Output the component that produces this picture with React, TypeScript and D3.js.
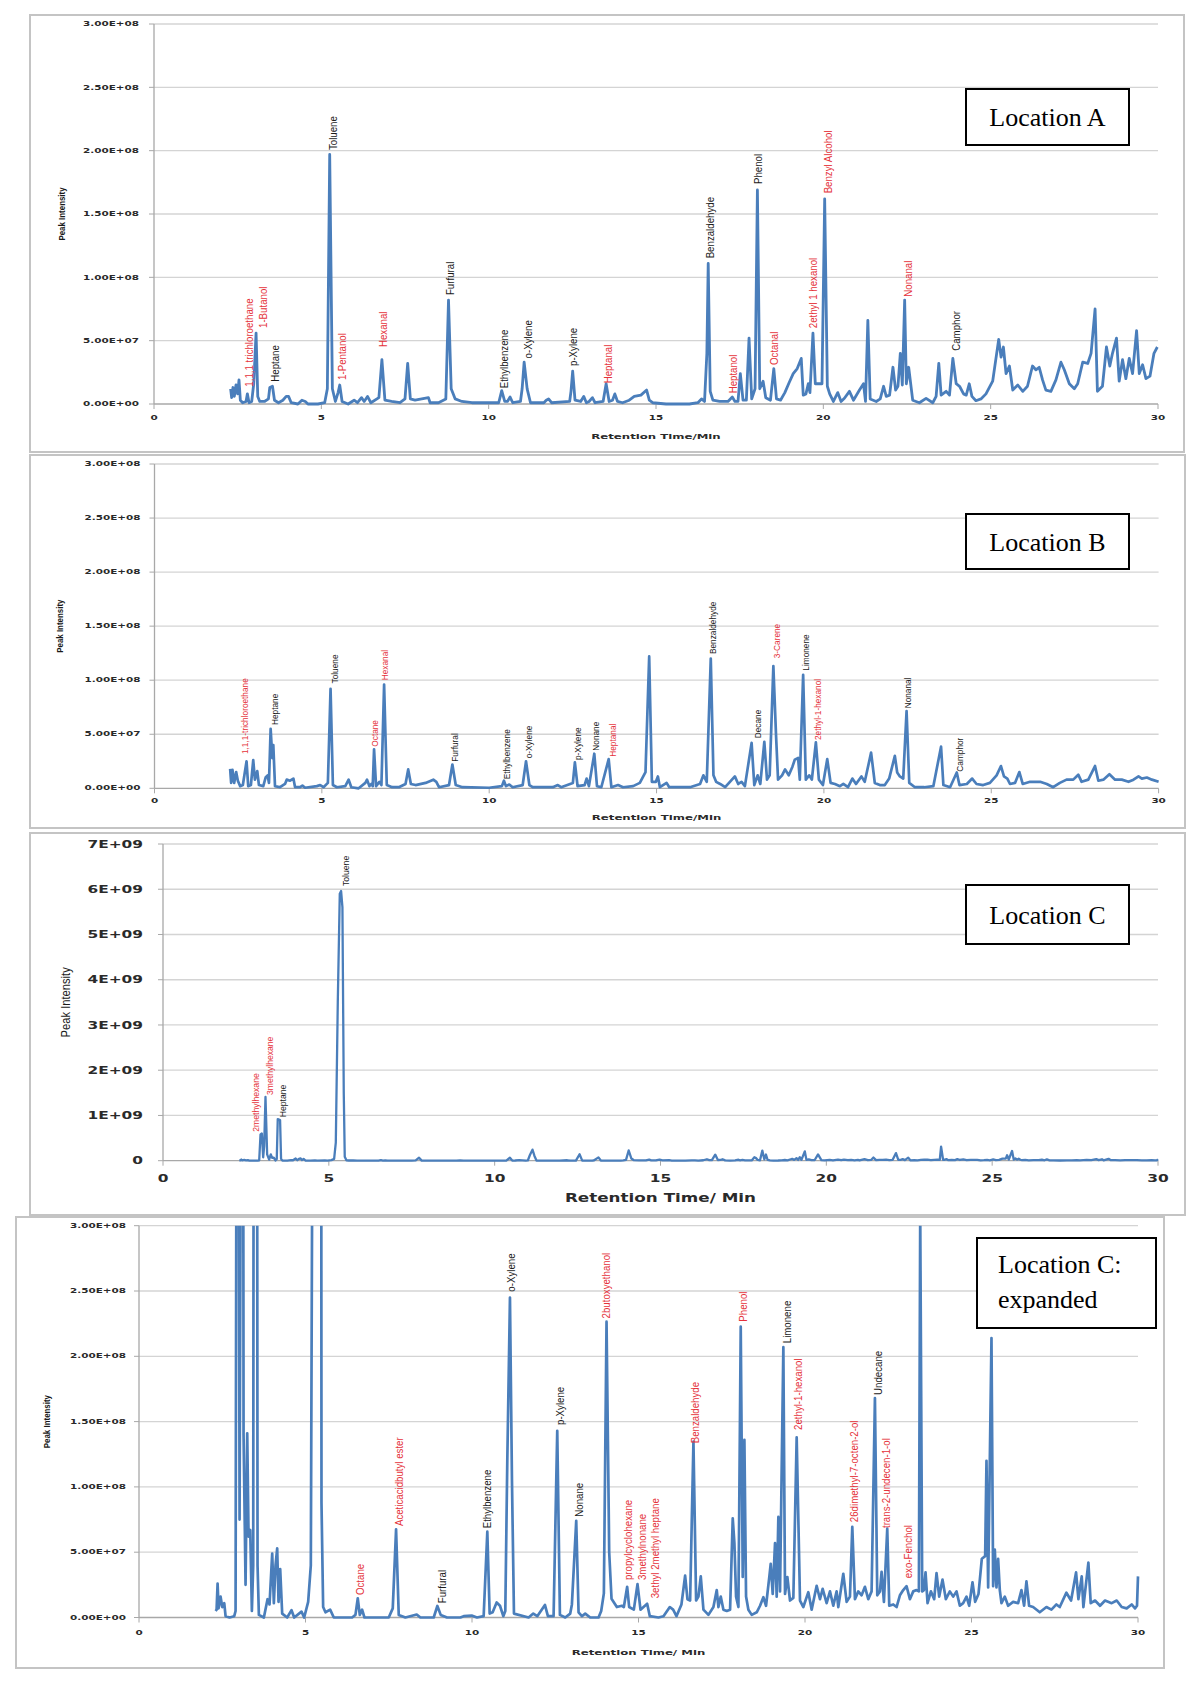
import React from "react";
import * as d3 from "d3";

type Pt = [number, number];
type Lbl = { name: string; t: number; v: number; red?: boolean };

// ---------- ticks ----------
const xTicks = [0, 5, 10, 15, 20, 25, 30];
const yTicksM = [0, 50, 100, 150, 200, 250, 300]; // millions
const yTickLabelsM = ["0.00E+00", "5.00E+07", "1.00E+08", "1.50E+08", "2.00E+08", "2.50E+08", "3.00E+08"];
const yTicksC = [0, 1000, 2000, 3000, 4000, 5000, 6000, 7000]; // millions
const yTickLabelsC = ["0", "1E+09", "2E+09", "3E+09", "4E+09", "5E+09", "6E+09", "7E+09"];

// ---------- series (retention time in min, intensity in millions) ----------
const seriesA: Pt[] = [
  [2.29,12],[2.32,5],[2.36,13],[2.4,6],[2.45,15],[2.5,8],[2.54,19],[2.58,3],[2.65,1],[2.75,2],[2.79,8],[2.84,1],[2.92,2],[2.98,16],[3.05,56],[3.1,6],[3.16,2],[3.3,2],[3.42,4],[3.46,13],[3.54,14],[3.6,3],[3.72,1],[3.85,3],[3.95,6],[4.02,6],[4.1,1],[4.3,0],[4.42,3],[4.52,2],[4.6,0],[4.9,0],[5.1,1],[5.18,12],[5.25,197],[5.33,12],[5.42,2],[5.5,9],[5.55,15],[5.62,2],[5.8,0],[5.98,3],[6.08,1],[6.2,5],[6.28,2],[6.38,6],[6.48,1],[6.72,5],[6.81,35],[6.9,3],[7.1,2],[7.35,1],[7.5,4],[7.58,32],[7.66,4],[7.8,3],[8.0,4],[8.2,5],[8.25,1],[8.5,1],[8.72,4],[8.8,82],[8.88,12],[9.0,4],[9.2,2],[9.5,1],[10.3,1],[10.39,10.5],[10.48,2],[10.56,2],[10.64,5.5],[10.72,1],[10.95,2],[11.0,12],[11.06,33],[11.15,12],[11.25,1],[11.65,1],[11.72,3],[11.79,4],[11.88,1],[12.42,2],[12.46,10],[12.51,26],[12.58,3],[12.75,2],[12.84,6],[12.92,1],[13.0,2],[13.1,5],[13.18,1],[13.42,2],[13.51,16],[13.6,2],[13.7,3],[13.77,8],[13.85,2],[14.0,1],[14.2,3],[14.35,6],[14.55,7],[14.72,11],[14.8,3],[14.9,1],[15.3,0],[16.0,0],[16.25,1],[16.36,4],[16.45,2],[16.52,40],[16.56,111],[16.62,10],[16.7,3],[16.9,2],[17.15,2],[17.28,5.5],[17.36,2],[17.45,2],[17.52,24],[17.6,3],[17.7,3],[17.78,52],[17.86,4],[17.96,12],[18.03,169],[18.1,12],[18.2,18],[18.28,5],[18.42,3],[18.52,28],[18.6,4],[18.72,3],[18.85,9],[18.98,17],[19.1,24],[19.22,28],[19.34,36],[19.4,7],[19.48,8],[19.55,16],[19.6,9],[19.69,56],[19.76,16],[19.85,16],[19.96,16],[20.04,162],[20.12,14],[20.19,8],[20.3,2],[20.43,9],[20.53,2],[20.63,4.5],[20.78,10],[20.9,3],[21.08,11],[21.2,16],[21.26,2],[21.33,66],[21.4,4],[21.58,2],[21.7,4],[21.8,14],[21.88,6],[21.98,7],[22.08,29],[22.16,11],[22.23,14],[22.3,40],[22.36,15],[22.43,82],[22.48,16],[22.55,29],[22.67,3],[22.87,1],[23.07,4.5],[23.27,1],[23.37,6],[23.45,32],[23.52,7],[23.67,10],[23.77,7],[23.87,36],[23.97,16],[24.07,14],[24.19,8],[24.27,7],[24.36,16],[24.44,6],[24.56,2.6],[24.71,4],[24.86,8],[25.06,18],[25.24,51],[25.31,37],[25.38,45],[25.46,24],[25.56,30],[25.66,11],[25.81,15],[25.96,10],[26.1,14],[26.25,30],[26.35,27],[26.45,29],[26.55,19],[26.65,11],[26.8,10],[26.95,19],[27.1,33],[27.2,27],[27.35,16],[27.5,12],[27.6,16],[27.75,33],[27.9,32],[28.0,40],[28.12,75],[28.19,10],[28.34,14],[28.46,45],[28.56,30],[28.64,40],[28.76,52],[28.84,18],[28.94,35],[29.04,20],[29.14,36],[29.24,24],[29.36,58],[29.44,24],[29.54,31],[29.64,20],[29.76,22],[29.88,40],[29.98,45]
];

const seriesB: Pt[] = [
  [2.26,18],[2.29,5],[2.33,17],[2.38,5],[2.44,15],[2.49,7],[2.56,2],[2.64,3],[2.75,25],[2.8,2],[2.88,3],[2.95,26],[3.0,8],[3.07,16],[3.12,3],[3.25,2],[3.32,10],[3.38,12],[3.42,5],[3.47,55],[3.52,28],[3.55,40],[3.6,2],[3.75,1],[3.9,4],[3.95,8],[4.05,7],[4.15,9],[4.2,1],[4.35,1],[4.42,2.5],[4.5,0.5],[4.85,2],[4.95,3],[5.05,1],[5.18,5],[5.26,92],[5.33,3],[5.45,1],[5.7,2],[5.8,8],[5.88,1],[6.1,0],[6.3,5],[6.35,8],[6.42,2],[6.48,4],[6.52,2],[6.56,36],[6.62,2],[6.72,6],[6.78,3],[6.86,96],[6.94,3],[7.1,1],[7.3,1],[7.5,4],[7.58,17.5],[7.66,4],[7.8,3],[8.1,5],[8.33,8],[8.42,6],[8.5,1],[8.8,3],[8.9,22],[9.0,3],[9.2,1],[10.0,0.5],[10.38,2],[10.44,7],[10.5,2],[10.6,3.5],[10.7,1],[11.0,3],[11.1,25],[11.2,3],[11.3,1],[11.9,1],[12.05,3],[12.15,1],[12.5,5],[12.56,24],[12.64,2],[12.85,3],[12.91,9],[12.98,2],[13.14,32],[13.22,2],[13.35,1],[13.57,27],[13.65,1],[13.85,3],[14.0,1],[14.3,2],[14.5,5],[14.67,15],[14.78,122],[14.86,6],[14.98,6],[15.04,11],[15.1,1],[15.3,5],[15.38,1],[16.0,1],[16.3,4],[16.4,12],[16.5,6],[16.62,120],[16.7,12],[16.78,6],[16.9,4],[17.05,1],[17.34,11],[17.44,4],[17.54,6],[17.64,2],[17.84,42],[17.92,3],[18.02,12],[18.1,4],[18.22,43],[18.3,8],[18.38,12],[18.49,113],[18.57,49],[18.63,8],[18.75,12],[18.84,17.5],[18.95,12],[19.06,20],[19.13,26.5],[19.23,28],[19.28,8],[19.38,105],[19.46,8],[19.56,12],[19.64,8],[19.76,42.5],[19.85,8],[19.97,3],[20.1,27],[20.2,5],[20.33,4],[20.48,2],[20.58,4],[20.72,1],[20.85,9],[20.96,4],[21.12,11],[21.22,6],[21.41,33],[21.52,5],[21.67,3],[21.82,3],[21.95,9],[22.12,30],[22.19,14.6],[22.27,11],[22.37,9],[22.47,71.5],[22.55,5],[22.72,1],[23.0,1],[23.27,2],[23.5,38.5],[23.57,3],[23.77,1],[23.97,14.6],[24.05,3],[24.27,4],[24.43,9],[24.56,4],[24.76,3],[24.96,5],[25.16,12],[25.29,20.6],[25.38,11],[25.48,9],[25.56,4],[25.71,5],[25.84,15],[25.94,4],[26.16,6],[26.46,6],[26.66,4],[26.85,1],[27.05,5],[27.25,8],[27.45,8],[27.6,12.6],[27.7,6],[27.9,8],[28.1,20.6],[28.2,7],[28.35,8],[28.53,13],[28.7,8],[28.9,8],[29.1,6],[29.25,8],[29.4,11],[29.5,9],[29.65,10],[29.8,8],[30.0,6]
];

// Location C (shown full-scale in panel C and expanded in panel D)
const seriesC: Pt[] = [
  [2.3,5],[2.33,6],[2.36,26],[2.39,7],[2.45,16],[2.5,8],[2.56,11],[2.6,1],[2.72,0],[2.86,1],[2.9,5],[2.94,580],[2.98,600],[3.02,75],[3.05,320],[3.09,1410],[3.14,140],[3.2,25],[3.25,141],[3.29,62],[3.34,67],[3.39,5],[3.43,40],[3.46,920],[3.53,900],[3.56,40],[3.6,2],[3.75,0],[3.86,14],[3.92,10],[4.0,49],[4.05,11],[4.1,40],[4.15,53],[4.19,12],[4.24,37],[4.3,3],[4.45,0],[4.58,5.6],[4.66,0],[4.88,4.5],[4.96,0],[5.08,12],[5.16,40],[5.21,400],[5.27,3500],[5.33,5900],[5.37,5960],[5.41,5600],[5.45,1500],[5.48,88],[5.53,8],[5.6,4],[5.74,6],[5.85,0],[6.4,0],[6.5,2],[6.57,14.7],[6.63,2],[6.7,6],[6.77,0],[7.5,0],[7.62,7],[7.72,67.5],[7.8,2],[8.0,0],[8.34,2.3],[8.45,0],[8.85,0],[8.96,8.8],[9.06,2],[9.25,0],[9.65,0],[9.75,1],[9.99,1.5],[10.15,0],[10.35,1],[10.46,65.7],[10.53,3],[10.62,4],[10.74,11.5],[10.84,9],[10.94,1],[11.0,5],[11.06,120],[11.14,245],[11.2,105],[11.26,3],[11.7,0],[11.84,3],[11.96,1],[12.19,9.6],[12.28,1],[12.45,1],[12.56,143],[12.64,2],[12.8,0],[12.95,3],[13.0,10],[13.13,74],[13.2,4],[13.3,1],[13.4,3],[13.55,0],[13.8,0],[13.88,5],[13.96,18.5],[14.04,226.5],[14.12,50],[14.19,14.4],[14.35,8],[14.5,9],[14.56,8],[14.66,23.5],[14.72,8],[14.86,6],[14.97,25.5],[15.06,6],[15.26,10.5],[15.34,1],[15.6,0],[15.75,1],[15.94,8],[16.04,6],[16.14,1],[16.29,10],[16.4,32],[16.47,14],[16.55,13],[16.65,134.6],[16.73,13],[16.8,16],[16.87,31.5],[16.95,6],[17.1,2],[17.25,8],[17.35,21],[17.4,8],[17.47,16],[17.55,6],[17.65,5],[17.75,6],[17.83,76],[17.88,57],[17.93,16],[18.0,8],[18.07,222.7],[18.13,31],[18.18,136],[18.23,16],[18.3,6],[18.4,2],[18.55,4],[18.65,9],[18.75,15.5],[18.83,9],[18.93,31.5],[18.97,41],[19.03,18],[19.1,57],[19.15,16],[19.2,77],[19.25,20],[19.35,207],[19.4,18],[19.47,31],[19.55,13],[19.65,15],[19.75,138],[19.85,13],[19.95,8],[20.1,19.4],[20.2,6],[20.35,24.3],[20.45,14],[20.53,22],[20.65,11],[20.75,20],[20.85,9],[20.95,20],[21.0,8],[21.15,33.5],[21.25,12],[21.35,16],[21.42,69.5],[21.5,14],[21.6,20],[21.7,17],[21.8,23.5],[21.9,14],[22.0,20],[22.1,168],[22.17,17],[22.25,20],[22.3,35],[22.37,12],[22.47,68],[22.53,9],[22.65,10],[22.75,8],[22.85,17],[22.95,21],[23.05,24],[23.15,14],[23.25,20],[23.35,21],[23.42,20],[23.46,310],[23.52,20],[23.57,21],[23.62,34.5],[23.68,11],[23.78,20],[23.88,14],[23.95,34],[24.03,16],[24.13,29],[24.23,14],[24.35,20],[24.45,16],[24.55,20],[24.65,9],[24.75,11],[24.85,16],[24.93,9],[25.03,27],[25.11,12],[25.21,18],[25.31,45],[25.41,47],[25.45,120],[25.5,23],[25.55,120],[25.6,214],[25.65,24],[25.7,52],[25.75,23],[25.8,45],[25.85,21],[25.9,11],[26.0,16],[26.1,9],[26.25,12],[26.4,11],[26.5,21],[26.58,9],[26.65,27.6],[26.73,9],[26.85,8],[27.05,4],[27.25,8],[27.4,6],[27.55,10],[27.65,8],[27.85,19],[27.99,13],[28.14,34.5],[28.21,14],[28.31,31.5],[28.36,8],[28.51,42],[28.58,11],[28.71,13],[28.86,9],[29.01,13],[29.21,11],[29.36,13],[29.51,8],[29.66,7],[29.81,10],[29.91,7],[29.97,9],[30.0,31.5]
];

// ---------- peak labels (t = retention time, v = intensity at label base) ----------
const labelsA: Lbl[] = [
  { name: "1,1,1 trichloroethane", t: 2.85, v: 13.7, red: true },
  { name: "1-Butanol", t: 3.26, v: 60, red: true },
  { name: "Heptane", t: 3.62, v: 17.6 },
  { name: "Toluene", t: 5.36, v: 200.5 },
  { name: "1-Pentanol", t: 5.61, v: 19, red: true },
  { name: "Hexanal", t: 6.85, v: 45, red: true },
  { name: "Furfural", t: 8.84, v: 86 },
  { name: "Ethylbenzene", t: 10.46, v: 12.4 },
  { name: "o-Xylene", t: 11.18, v: 36 },
  { name: "p-Xylene", t: 12.51, v: 30 },
  { name: "Heptanal", t: 13.57, v: 16.3, red: true },
  { name: "Benzaldehyde", t: 16.61, v: 115 },
  { name: "Heptanol", t: 17.29, v: 8.4, red: true },
  { name: "Phenol", t: 18.05, v: 173.7 },
  { name: "Octanal", t: 18.52, v: 30.8, red: true },
  { name: "2ethyl 1 hexanol", t: 19.7, v: 59.8, red: true },
  { name: "Benzyl Alcohol", t: 20.13, v: 166.3, red: true },
  { name: "Nonanal", t: 22.52, v: 84.7, red: true },
  { name: "Camphor", t: 23.98, v: 42 }
];

const labelsB: Lbl[] = [
  { name: "1,1,1-trichloroethane", t: 2.69, v: 31.7, red: true },
  { name: "Heptane", t: 3.59, v: 58.6 },
  { name: "Toluene", t: 5.38, v: 97 },
  { name: "Octane", t: 6.57, v: 38.5, red: true },
  { name: "Hexanal", t: 6.87, v: 100, red: true },
  { name: "Furfural", t: 8.97, v: 24.6 },
  { name: "Ethylbenzene", t: 10.52, v: 8.3 },
  { name: "o-Xylene", t: 11.18, v: 27.8 },
  { name: "p-Xylene", t: 12.65, v: 26.2 },
  { name: "Nonane", t: 13.18, v: 34.8 },
  { name: "Heptanal", t: 13.7, v: 29.2, red: true },
  { name: "Benzaldehyde", t: 16.69, v: 124.2 },
  { name: "Decane", t: 18.02, v: 46.3 },
  { name: "3-Carene", t: 18.58, v: 120.3, red: true },
  { name: "Limonene", t: 19.45, v: 108.8 },
  { name: "2ethyl-1-hexanol", t: 19.8, v: 44.7, red: true },
  { name: "Nonanal", t: 22.51, v: 74 },
  { name: "Camphor", t: 24.06, v: 15.4 }
];

const labelsC: Lbl[] = [
  { name: "2methylhexane", t: 2.79, v: 641, red: true },
  { name: "3methylhexane", t: 3.2, v: 1452, red: true },
  { name: "Heptane", t: 3.61, v: 959 },
  { name: "Toluene", t: 5.49, v: 6072 }
];

const labelsD: Lbl[] = [
  { name: "Octane", t: 6.64, v: 17.2, red: true },
  { name: "Aceticacidbutyl ester", t: 7.82, v: 70, red: true },
  { name: "Furfural", t: 9.09, v: 10.9 },
  { name: "Ethylbenzene", t: 10.46, v: 68.3 },
  { name: "o-Xylene", t: 11.19, v: 249.5 },
  { name: "p-Xylene", t: 12.64, v: 147.4 },
  { name: "Nonane", t: 13.22, v: 77.2 },
  { name: "2butoxyethanol", t: 14.04, v: 229, red: true },
  { name: "propylcyclohexane", t: 14.69, v: 28.7, red: true },
  { name: "3methylnonane", t: 15.1, v: 28.7, red: true },
  { name: "3ethyl 2methyl heptane", t: 15.5, v: 14.7, red: true },
  { name: "Benzaldehyde", t: 16.7, v: 133.4, red: true },
  { name: "Phenol", t: 18.15, v: 226.5, red: true },
  { name: "Limonene", t: 19.45, v: 210 },
  { name: "2ethyl-1-hexanol", t: 19.8, v: 143.6, red: true },
  { name: "26dimethyl-7-octen-2-ol", t: 21.47, v: 73, red: true },
  { name: "Undecane", t: 22.19, v: 170.4 },
  { name: "trans-2-undecen-1-ol", t: 22.45, v: 68.5, red: true },
  { name: "exo-Fenchol", t: 23.1, v: 30, red: true }
];

// ---------- layout ----------
interface Cfg {
  id: string;
  series: Pt[];
  labels: Lbl[];
  yMax: number;
  yTicks: number[];
  yTickLabels: string[];
  x0: number; x1: number; yTop: number; yBot: number;
  box: [number, number, number, number];
  loc: { x: number; y: number; w: number; h: number; lines: string[] };
  title: string;
  big: boolean;
  lblFont: number;
  lineW: number;
  yLblGap: number; xLblOff: number; titleOff: number; piX: number;
}

const BLUE = "#4a7ebb";
const RED = "#e5323a";
const GRID = "#d4d4d4";

const panels: Cfg[] = [
  {
    id: "A", series: seriesA, labels: labelsA, yMax: 300, yTicks: yTicksM, yTickLabels: yTickLabelsM,
    x0: 154, x1: 1158, yTop: 24, yBot: 404, box: [30, 15, 1184, 452],
    loc: { x: 966, y: 89, w: 163, h: 56, lines: ["Location A"] },
    title: "Retention Time/Min", big: false, lblFont: 11, lineW: 2.8,
    yLblGap: 15, xLblOff: 14, titleOff: 32, piX: 62
  },
  {
    id: "B", series: seriesB, labels: labelsB, yMax: 300, yTicks: yTicksM, yTickLabels: yTickLabelsM,
    x0: 154.5, x1: 1158.6, yTop: 464, yBot: 788.3, box: [30, 455, 1185, 828],
    loc: { x: 966, y: 514, w: 163, h: 55, lines: ["Location B"] },
    title: "Retention Time/Min", big: false, lblFont: 9.4, lineW: 2.7,
    yLblGap: 14, xLblOff: 13, titleOff: 28.5, piX: 60
  },
  {
    id: "C", series: seriesC, labels: labelsC, yMax: 7000, yTicks: yTicksC, yTickLabels: yTickLabelsC,
    x0: 163, x1: 1158, yTop: 844, yBot: 1160.7, box: [30, 833, 1185, 1215],
    loc: { x: 966, y: 885, w: 163, h: 59, lines: ["Location C"] },
    title: "Retention Time/ Min", big: true, lblFont: 9.8, lineW: 2.3,
    yLblGap: 20, xLblOff: 17.5, titleOff: 36.5, piX: 65
  },
  {
    id: "D", series: seriesC, labels: labelsD, yMax: 300, yTicks: yTicksM, yTickLabels: yTickLabelsM,
    x0: 139, x1: 1138, yTop: 1225.7, yBot: 1617.5, box: [16, 1217, 1164, 1668],
    loc: { x: 977, y: 1238, w: 179, h: 90, lines: ["Location C:", "expanded"] },
    title: "Retention Time/ Min", big: false, lblFont: 11, lineW: 2.7,
    yLblGap: 13, xLblOff: 15.5, titleOff: 34.5, piX: 47
  }
];

function Panel({ c }: { c: Cfg }) {
  const x = d3.scaleLinear().domain([0, 30]).range([c.x0, c.x1]);
  const y = d3.scaleLinear().domain([0, c.yMax]).range([c.yBot, c.yTop]);
  const line = d3.line<Pt>().x((d) => x(d[0])).y((d) => y(d[1])).curve(d3.curveLinear);
  const [bx0, by0, bx1, by1] = c.box;
  const tickFont = c.big ? 11 : 8;
  const tickScale = c.big ? "scale(1.4,1)" : "scale(1.3,0.78)";
  const axisFont = "'DejaVu Sans', Verdana, sans-serif";
  const yMid = (c.yTop + c.yBot) / 2;
  return (
    <g>
      <defs>
        <clipPath id={`clip${c.id}`}>
          <rect x={c.x0} y={c.yTop} width={c.x1 - c.x0 + 4} height={c.yBot - c.yTop + 4} />
        </clipPath>
      </defs>
      <rect x={bx0} y={by0} width={bx1 - bx0} height={by1 - by0} fill="#fff" stroke="#c4c4c4" strokeWidth={2} />
      {c.yTicks.map((t, i) => (
        <g key={`g${i}`}>
          <line x1={c.x0} x2={c.x1} y1={y(t)} y2={y(t)} stroke={t === 0 ? "#a8a8a8" : GRID} strokeWidth={1.3} />
          <line x1={c.x0 - 5} x2={c.x0} y1={y(t)} y2={y(t)} stroke="#a8a8a8" strokeWidth={1} />
          <text
            transform={`translate(${c.x0 - c.yLblGap},${y(t)}) ${tickScale}`}
            textAnchor="end" dominantBaseline="central"
            fontFamily={axisFont} fontWeight="bold" fontSize={tickFont} fill="#2a2a2a"
          >{c.yTickLabels[i]}</text>
        </g>
      ))}
      <line x1={c.x0} x2={c.x0} y1={c.yTop} y2={c.yBot} stroke="#a8a8a8" strokeWidth={1.3} />
      {xTicks.map((t) => (
        <g key={`x${t}`}>
          <line x1={x(t)} x2={x(t)} y1={c.yBot} y2={c.yBot + 5} stroke="#a8a8a8" strokeWidth={1} />
          <text
            transform={`translate(${x(t)},${c.yBot + c.xLblOff}) ${tickScale}`}
            textAnchor="middle" dominantBaseline="central"
            fontFamily={axisFont} fontWeight="bold" fontSize={tickFont} fill="#2a2a2a"
          >{t}</text>
        </g>
      ))}
      <text
        transform={`translate(${(c.x0 + c.x1) / 2},${c.yBot + c.titleOff}) ${c.big ? "scale(1.4,1)" : "scale(1.38,0.9)"}`}
        textAnchor="middle" dominantBaseline="central"
        fontFamily={axisFont} fontWeight="bold" fontSize={c.big ? 12 : 8.5} fill="#2a2a2a"
      >{c.title}</text>
      <text
        transform={`translate(${c.piX},${yMid}) rotate(-90) ${c.big ? "scale(0.86,1)" : "scale(0.88,1)"}`}
        textAnchor="middle" dy="0.35em"
        fontFamily="'Liberation Sans', Arial, sans-serif" fontWeight={c.big ? "normal" : "bold"}
        fontSize={c.big ? 13 : 9} fill="#1a1a1a"
      >Peak Intensity</text>
      <path d={line(c.series) || ""} fill="none" stroke={BLUE} strokeWidth={c.lineW}
        strokeLinejoin="round" clipPath={`url(#clip${c.id})`} />
      {c.labels.map((l, i) => (
        <text key={`l${i}`}
          transform={`translate(${x(l.t)},${y(l.v)}) rotate(-90) scale(0.88,1)`}
          dy="0.35em" textAnchor="start"
          fontFamily="'Liberation Sans', Arial, sans-serif" fontSize={c.lblFont}
          fill={l.red ? RED : "#1a1a1a"}
        >{l.name}</text>
      ))}
      <rect x={c.loc.x} y={c.loc.y} width={c.loc.w} height={c.loc.h} fill="#fff" stroke="#000" strokeWidth={2} />
      {c.loc.lines.length === 1 ? (
        <text x={c.loc.x + c.loc.w / 2} y={c.loc.y + c.loc.h / 2 + 9} textAnchor="middle"
          fontFamily="'Liberation Serif', 'Times New Roman', serif" fontSize={26} fill="#000">{c.loc.lines[0]}</text>
      ) : (
        c.loc.lines.map((s, i) => (
          <text key={s} x={c.loc.x + 21} y={c.loc.y + 35 + i * 35}
            fontFamily="'Liberation Serif', 'Times New Roman', serif" fontSize={26} fill="#000">{s}</text>
        ))
      )}
    </g>
  );
}

export default function App() {
  return (
    <svg width={1200} height={1689} viewBox="0 0 1200 1689"
      style={{ position: "absolute", left: 0, top: 0, display: "block", background: "#fff" }}>
      <rect x={0} y={0} width={1200} height={1689} fill="#fff" />
      {panels.map((c) => <Panel key={c.id} c={c} />)}
    </svg>
  );
}
